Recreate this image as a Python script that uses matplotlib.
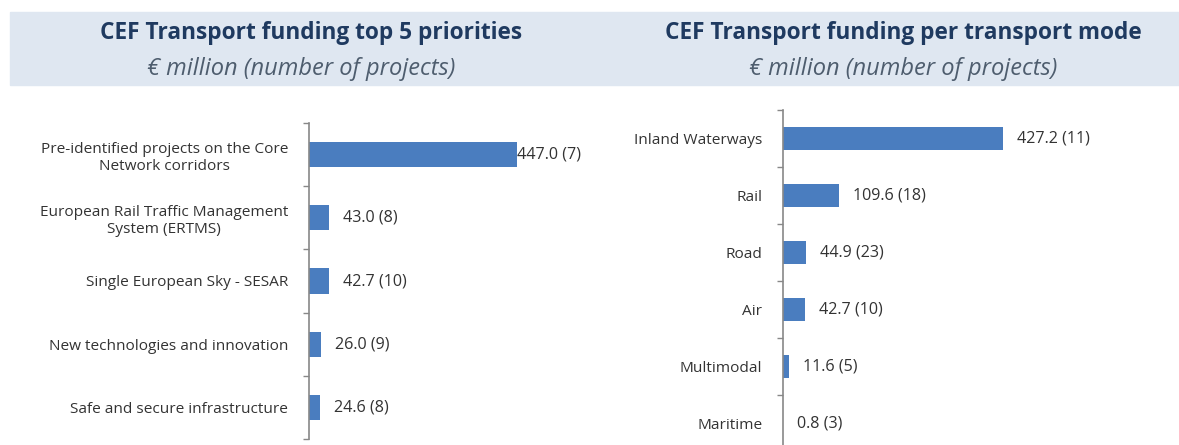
import numpy as np
import matplotlib.pyplot as plt
from matplotlib.patches import Rectangle

# Data
priorities = ['Pre-identified projects on the Core\nNetwork corridors',
              'European Rail Traffic Management\nSystem (ERTMS)',
              'Single European Sky - SESAR',
              'New technologies and innovation',
              'Safe and secure infrastructure']
priority_amount = [447.0, 43.0, 42.7, 26.0, 24.6]
priority_projects = [7, 8, 10, 9, 8]

modes = ['Inland Waterways', 'Rail', 'Road', 'Air', 'Multimodal', 'Maritime']
mode_amount = [427.2, 109.6, 44.9, 42.7, 11.6, 0.8]
mode_projects = [11, 18, 23, 10, 5, 3]

W, H = 1179, 445
bar_color = '#4a7dbf'
text_color = '#333333'
title_color = '#1f3a60'
sub_color = '#4e5d6e'

plt.rcParams['font.family'] = ['Open Sans', 'DejaVu Sans']

fig = plt.figure(figsize=(W / 100, H / 100), dpi=100)

# header band
fig.patches.append(Rectangle((10 / W, 1 - 85 / H), (W - 10) / W, 73 / H,
                             transform=fig.transFigure, color='#dfe7f1', zorder=0))

fig.text(311 / W, 1 - 33 / H, 'CEF Transport funding top 5 priorities', ha='center', va='center',
         fontsize=16.3, fontweight='bold', color=title_color)
fig.text(301 / W, 1 - 69 / H, '€ million (number of projects)', ha='center', va='center',
         fontsize=17, fontstyle='italic', color=sub_color)
fig.text(903 / W, 1 - 33 / H, 'CEF Transport funding per transport mode', ha='center', va='center',
         fontsize=16.3, fontweight='bold', color=title_color)
fig.text(903 / W, 1 - 69 / H, '€ million (number of projects)', ha='center', va='center',
         fontsize=17, fontstyle='italic', color=sub_color)


def draw_panel(rect, cats, vals, counts, first_pad):
    ax = fig.add_axes(rect)
    y = np.arange(len(cats))
    ax.barh(y, vals, height=0.4, color=bar_color)
    ax.set_xlim(0, max(vals))
    ax.set_ylim(len(cats) - 0.5, -0.5)
    ax.set_yticks(y)
    ax.set_yticklabels(cats, fontsize=11.1, color=text_color, multialignment='center')
    ax.tick_params(axis='y', which='major', length=0, pad=15)
    ax.set_yticks(np.arange(len(cats) + 1) - 0.5, minor=True)
    ax.tick_params(axis='y', which='minor', length=4, color='#888888', width=1)
    ax.set_xticks([])
    for s in ['top', 'right', 'bottom']:
        ax.spines[s].set_visible(False)
    ax.spines['left'].set_color('#888888')
    ax.spines['left'].set_linewidth(1.2)
    ax.patch.set_alpha(0)
    for i, (v, n) in enumerate(zip(vals, counts)):
        pad = first_pad if v == max(vals) else 10
        ax.annotate(f'{v:.1f} ({n})', (v, i), xytext=(pad, 0), textcoords='offset points',
                    va='center', ha='left', fontsize=11.6, color=text_color, annotation_clip=False)
    return ax


draw_panel([309 / W, (H - 439) / H, 208 / W, 316 / H], priorities, priority_amount, priority_projects, 0)
draw_panel([783 / W, (H - 452) / H, 220 / W, 342 / H], modes, mode_amount, mode_projects, 10)

fig.savefig('out.png', dpi=100)
